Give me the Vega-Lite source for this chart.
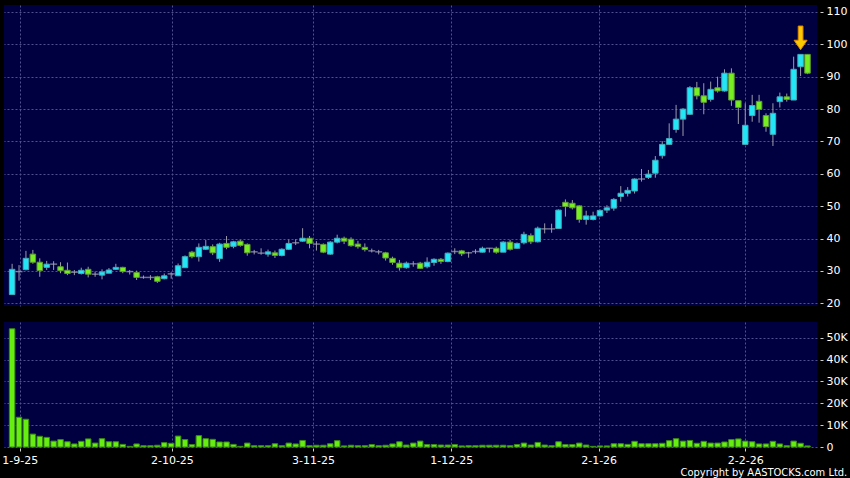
{
  "$schema": "https://vega.github.io/schema/vega-lite/v6.json",
  "background": "#000000",
  "autosize": {"type": "none"},
  "padding": {"left": 4, "top": 5, "right": 846, "bottom": 473},
  "config": {
    "view": {"fill": "#000040", "stroke": null},
    "font": "DejaVu Sans",
    "axis": {"labelColor": "#ffffff", "labelFont": "DejaVu Sans", "labelFontSize": 11, "tickColor": "#d0d0d0", "gridColor": "#50508e", "gridDash": [2, 2], "gridWidth": 1, "domain": false, "title": null}
  },
  "datasets": {
    "k": [
      {"i":0,"o":22.7,"h":32.2,"l":22.7,"c":30.5,"v":54100},
      {"i":1,"o":29.8,"h":31.8,"l":27.0,"c":29.8,"v":13600},
      {"i":2,"o":30.4,"h":36.2,"l":30.2,"c":33.9,"v":12700},
      {"i":3,"o":35.2,"h":36.5,"l":32.2,"c":32.7,"v":5900},
      {"i":4,"o":32.7,"h":33.9,"l":28.2,"c":30.1,"v":4900},
      {"i":5,"o":31.1,"h":33.1,"l":30.3,"c":32.1,"v":4400},
      {"i":6,"o":32.1,"h":33.0,"l":30.3,"c":32.1,"v":2700},
      {"i":7,"o":31.3,"h":32.7,"l":29.3,"c":30.1,"v":3400},
      {"i":8,"o":30.2,"h":32.6,"l":28.7,"c":29.2,"v":2400},
      {"i":9,"o":29.6,"h":30.3,"l":28.7,"c":29.6,"v":1400},
      {"i":10,"o":29.2,"h":31.0,"l":28.9,"c":30.2,"v":2600},
      {"i":11,"o":30.5,"h":31.3,"l":28.0,"c":29.0,"v":3700},
      {"i":12,"o":29.0,"h":29.8,"l":28.2,"c":29.0,"v":1800},
      {"i":13,"o":28.7,"h":30.5,"l":27.4,"c":29.7,"v":3800},
      {"i":14,"o":29.3,"h":30.9,"l":29.3,"c":30.3,"v":2400},
      {"i":15,"o":30.5,"h":32.2,"l":30.3,"c":31.1,"v":2400},
      {"i":16,"o":31.1,"h":31.3,"l":29.3,"c":29.8,"v":1200},
      {"i":17,"o":29.8,"h":30.3,"l":28.9,"c":29.8,"v":300},
      {"i":18,"o":29.5,"h":30.1,"l":27.2,"c":28.0,"v":1400},
      {"i":19,"o":28.0,"h":28.6,"l":27.6,"c":28.0,"v":600},
      {"i":20,"o":28.0,"h":28.7,"l":27.2,"c":28.0,"v":600},
      {"i":21,"o":28.2,"h":28.5,"l":26.3,"c":26.8,"v":800},
      {"i":22,"o":27.6,"h":29.2,"l":27.4,"c":28.5,"v":2000},
      {"i":23,"o":29.1,"h":29.6,"l":27.6,"c":29.1,"v":1700},
      {"i":24,"o":28.5,"h":32.3,"l":28.5,"c":31.6,"v":5000},
      {"i":25,"o":31.0,"h":34.8,"l":31.0,"c":34.4,"v":3400},
      {"i":26,"o":35.8,"h":36.2,"l":33.9,"c":34.4,"v":1100},
      {"i":27,"o":34.4,"h":38.5,"l":32.9,"c":37.3,"v":5200},
      {"i":28,"o":36.7,"h":39.6,"l":36.5,"c":37.6,"v":3800},
      {"i":29,"o":37.5,"h":38.2,"l":34.9,"c":35.6,"v":3500},
      {"i":30,"o":33.8,"h":38.7,"l":32.8,"c":38.3,"v":2300},
      {"i":31,"o":38.5,"h":40.8,"l":36.7,"c":37.3,"v":2300},
      {"i":32,"o":37.6,"h":39.3,"l":37.0,"c":39.0,"v":1200},
      {"i":33,"o":39.2,"h":39.6,"l":37.5,"c":37.9,"v":300},
      {"i":34,"o":38.2,"h":38.5,"l":34.7,"c":35.6,"v":1800},
      {"i":35,"o":35.9,"h":36.5,"l":35.1,"c":35.9,"v":600},
      {"i":36,"o":35.5,"h":37.0,"l":35.0,"c":35.5,"v":600},
      {"i":37,"o":35.2,"h":36.6,"l":34.4,"c":35.9,"v":600},
      {"i":38,"o":35.6,"h":36.3,"l":34.0,"c":34.8,"v":1500},
      {"i":39,"o":34.8,"h":37.0,"l":34.5,"c":36.7,"v":600},
      {"i":40,"o":36.7,"h":39.7,"l":36.5,"c":38.5,"v":1800},
      {"i":41,"o":38.7,"h":39.8,"l":38.0,"c":38.7,"v":1400},
      {"i":42,"o":39.2,"h":43.2,"l":39.0,"c":40.1,"v":3000},
      {"i":43,"o":40.1,"h":40.8,"l":37.0,"c":38.5,"v":600},
      {"i":44,"o":38.3,"h":39.2,"l":36.3,"c":38.3,"v":800},
      {"i":45,"o":38.2,"h":38.5,"l":35.5,"c":35.8,"v":800},
      {"i":46,"o":35.2,"h":39.2,"l":35.0,"c":38.9,"v":1500},
      {"i":47,"o":38.9,"h":41.2,"l":38.5,"c":40.1,"v":2900},
      {"i":48,"o":40.1,"h":40.6,"l":38.3,"c":39.2,"v":500},
      {"i":49,"o":39.8,"h":40.4,"l":37.5,"c":37.8,"v":800},
      {"i":50,"o":38.3,"h":39.3,"l":36.9,"c":37.5,"v":600},
      {"i":51,"o":37.3,"h":38.5,"l":36.0,"c":36.6,"v":600},
      {"i":52,"o":36.2,"h":36.9,"l":35.7,"c":36.2,"v":1100},
      {"i":53,"o":35.9,"h":36.5,"l":35.1,"c":35.9,"v":600},
      {"i":54,"o":35.6,"h":35.9,"l":33.2,"c":34.0,"v":800},
      {"i":55,"o":33.9,"h":34.4,"l":31.9,"c":32.6,"v":1400},
      {"i":56,"o":32.4,"h":33.4,"l":30.1,"c":31.0,"v":2400},
      {"i":57,"o":31.0,"h":32.9,"l":30.7,"c":32.4,"v":900},
      {"i":58,"o":32.2,"h":33.0,"l":31.3,"c":32.2,"v":1800},
      {"i":59,"o":32.4,"h":32.8,"l":30.6,"c":30.8,"v":2700},
      {"i":60,"o":31.3,"h":34.2,"l":30.8,"c":32.7,"v":1100},
      {"i":61,"o":32.6,"h":33.9,"l":31.6,"c":33.6,"v":1100},
      {"i":62,"o":33.6,"h":34.0,"l":32.2,"c":32.9,"v":900},
      {"i":63,"o":32.9,"h":35.7,"l":32.7,"c":35.5,"v":900},
      {"i":64,"o":36.0,"h":37.0,"l":35.2,"c":36.0,"v":1100},
      {"i":65,"o":36.2,"h":36.5,"l":34.6,"c":35.3,"v":500},
      {"i":66,"o":35.6,"h":35.9,"l":34.1,"c":35.6,"v":600},
      {"i":67,"o":36.0,"h":36.7,"l":35.3,"c":36.0,"v":600},
      {"i":68,"o":35.8,"h":37.5,"l":35.7,"c":37.0,"v":800},
      {"i":69,"o":37.0,"h":37.1,"l":35.7,"c":37.0,"v":800},
      {"i":70,"o":37.0,"h":37.5,"l":35.3,"c":35.8,"v":800},
      {"i":71,"o":35.8,"h":39.2,"l":35.8,"c":38.9,"v":800},
      {"i":72,"o":38.9,"h":39.6,"l":36.3,"c":36.7,"v":600},
      {"i":73,"o":37.0,"h":38.8,"l":36.8,"c":38.5,"v":1100},
      {"i":74,"o":38.7,"h":42.1,"l":38.2,"c":41.3,"v":1800},
      {"i":75,"o":40.9,"h":41.6,"l":38.3,"c":39.0,"v":900},
      {"i":76,"o":39.0,"h":43.7,"l":38.8,"c":43.2,"v":2100},
      {"i":77,"o":43.0,"h":44.7,"l":41.6,"c":43.0,"v":900},
      {"i":78,"o":43.0,"h":44.6,"l":41.8,"c":43.0,"v":600},
      {"i":79,"o":43.1,"h":49.0,"l":43.1,"c":48.8,"v":2400},
      {"i":80,"o":51.2,"h":52.1,"l":46.8,"c":49.9,"v":1100},
      {"i":81,"o":50.9,"h":51.9,"l":49.0,"c":49.5,"v":1100},
      {"i":82,"o":50.1,"h":50.3,"l":44.9,"c":45.9,"v":1800},
      {"i":83,"o":45.9,"h":48.6,"l":44.3,"c":47.0,"v":900},
      {"i":84,"o":45.9,"h":48.3,"l":45.6,"c":47.0,"v":300},
      {"i":85,"o":47.0,"h":49.0,"l":46.8,"c":48.7,"v":500},
      {"i":86,"o":48.8,"h":50.3,"l":47.9,"c":49.5,"v":500},
      {"i":87,"o":49.4,"h":52.5,"l":48.6,"c":52.1,"v":1500},
      {"i":88,"o":53.0,"h":56.2,"l":51.4,"c":54.0,"v":1500},
      {"i":89,"o":54.0,"h":55.9,"l":53.0,"c":54.9,"v":1200},
      {"i":90,"o":54.7,"h":58.6,"l":53.9,"c":58.4,"v":2600},
      {"i":91,"o":58.4,"h":61.5,"l":57.6,"c":58.4,"v":1500},
      {"i":92,"o":58.9,"h":61.2,"l":58.4,"c":59.9,"v":1500},
      {"i":93,"o":60.2,"h":65.5,"l":58.8,"c":64.2,"v":1500},
      {"i":94,"o":65.6,"h":70.1,"l":64.7,"c":69.1,"v":1700},
      {"i":95,"o":69.1,"h":75.6,"l":68.9,"c":70.9,"v":2900},
      {"i":96,"o":73.7,"h":81.3,"l":72.7,"c":76.9,"v":3800},
      {"i":97,"o":76.9,"h":80.3,"l":71.7,"c":80.0,"v":2700},
      {"i":98,"o":78.4,"h":87.1,"l":78.2,"c":86.6,"v":3000},
      {"i":99,"o":86.6,"h":88.4,"l":83.0,"c":84.1,"v":1700},
      {"i":100,"o":84.1,"h":88.0,"l":78.4,"c":82.1,"v":2600},
      {"i":101,"o":83.0,"h":88.5,"l":82.3,"c":86.1,"v":1800},
      {"i":102,"o":86.6,"h":90.0,"l":85.1,"c":85.6,"v":1800},
      {"i":103,"o":85.6,"h":92.3,"l":85.4,"c":91.1,"v":2300},
      {"i":104,"o":91.1,"h":92.6,"l":81.0,"c":82.8,"v":3400},
      {"i":105,"o":82.6,"h":82.6,"l":75.4,"c":80.5,"v":3700},
      {"i":106,"o":69.1,"h":81.8,"l":69.1,"c":75.0,"v":2700},
      {"i":107,"o":78.0,"h":84.4,"l":76.1,"c":81.1,"v":2400},
      {"i":108,"o":82.4,"h":84.4,"l":75.8,"c":79.9,"v":1400},
      {"i":109,"o":78.0,"h":78.7,"l":73.0,"c":74.6,"v":1400},
      {"i":110,"o":72.2,"h":81.8,"l":68.6,"c":78.7,"v":2600},
      {"i":111,"o":82.3,"h":85.1,"l":80.5,"c":83.8,"v":1400},
      {"i":112,"o":83.8,"h":84.8,"l":82.3,"c":83.0,"v":600},
      {"i":113,"o":82.8,"h":96.2,"l":82.8,"c":92.3,"v":2700},
      {"i":114,"o":93.1,"h":96.9,"l":90.2,"c":96.9,"v":1700},
      {"i":115,"o":96.9,"h":96.9,"l":90.8,"c":91.1,"v":500}
    ],
    "m": [{"i": 114, "p": 102}]
  },
  "spacing": 13,
  "vconcat": [
    {
      "width": 813,
      "height": 301,
      "data": {"name": "k"},
      "encoding": {
        "x": {"field": "i", "type": "quantitative", "scale": {"domain": [-0.45, 115.65], "nice": false, "zero": false},
              "axis": {"values": [1.1, 23.1, 43.5, 63.5, 84.8, 106], "labels": false, "ticks": false, "grid": true}}
      },
      "layer": [
        {
          "mark": {"type": "rule", "color": "#9a9aaa", "strokeWidth": 1},
          "encoding": {
            "y": {"field": "l", "type": "quantitative", "scale": {"domain": [19.17, 112.16], "nice": false, "zero": false},
                  "axis": {"orient": "right", "values": [20, 30, 40, 50, 60, 70, 80, 90, 100, 110], "offset": 3, "tickSize": 3, "labelPadding": 3, "grid": true, "labelOverlap": false, "labelBound": false}},
            "y2": {"field": "h"}
          }
        },
        {
          "transform": [{"filter": "datum.o != datum.c"}],
          "mark": {"type": "bar", "width": 5.5, "strokeWidth": 1},
          "encoding": {
            "y": {"field": "o", "type": "quantitative", "axis": {"orient": "right", "values": [20, 30, 40, 50, 60, 70, 80, 90, 100, 110], "offset": 3, "tickSize": 3, "labelPadding": 3, "grid": true, "labelOverlap": false, "labelBound": false}},
            "y2": {"field": "c"},
            "fill": {"condition": {"test": "datum.c > datum.o", "value": "#22e6f6"}, "value": "#77ee22"},
            "stroke": {"condition": {"test": "datum.c > datum.o", "value": "#45a9bb"}, "value": "#5f9c33"}
          }
        },
        {
          "transform": [{"filter": "datum.o == datum.c"}],
          "mark": {"type": "tick", "orient": "horizontal", "size": 7, "thickness": 1.5, "color": "#a0a0b0"},
          "encoding": {"y": {"field": "o", "type": "quantitative", "axis": {"orient": "right", "values": [20, 30, 40, 50, 60, 70, 80, 90, 100, 110], "offset": 3, "tickSize": 3, "labelPadding": 3, "grid": true, "labelOverlap": false, "labelBound": false}}}
        },
        {
          "data": {"name": "m"},
          "mark": {"type": "point", "shape": "M-0.2,-1L0.2,-1L0.2,0.2L0.55,0.2L0,1L-0.55,0.2L-0.2,0.2Z", "size": 560, "filled": true, "fill": "#f8c800", "stroke": "#e08800", "strokeWidth": 1, "opacity": 1},
          "encoding": {"y": {"field": "p", "type": "quantitative", "axis": {"orient": "right", "values": [20, 30, 40, 50, 60, 70, 80, 90, 100, 110], "offset": 3, "tickSize": 3, "labelPadding": 3, "grid": true, "labelOverlap": false, "labelBound": false}}}
        }
      ]
    },
    {
      "width": 813,
      "height": 125,
      "data": {"name": "k"},
      "mark": {"type": "bar", "width": 5.5, "fill": "#66ee11", "stroke": "#3a8a14", "strokeWidth": 1},
      "encoding": {
        "x": {"field": "i", "type": "quantitative", "scale": {"domain": [-0.45, 115.65], "nice": false, "zero": false},
              "axis": {"values": [1.1, 23.1, 43.5, 63.5, 84.8, 106], "labelExpr": "datum.value < 5 ? '1-9-25' : datum.value < 30 ? '2-10-25' : datum.value < 50 ? '3-11-25' : datum.value < 70 ? '1-12-25' : datum.value < 95 ? '2-1-26' : '2-2-26'", "offset": 1, "tickSize": 3, "labelPadding": 3, "grid": true, "labelFlush": false, "labelOverlap": false, "labelBound": false}},
        "y": {"field": "v", "type": "quantitative", "scale": {"domain": [0, 57200], "nice": false},
              "axis": {"orient": "right", "values": [0, 10000, 20000, 30000, 40000, 50000], "labelExpr": "datum.value == 0 ? '0' : (datum.value / 1000) + 'K'", "offset": 3, "tickSize": 3, "labelPadding": 3, "grid": true, "labelOverlap": false, "labelFlush": false}}
      }
    }
  ],
  "title": {"text": "Copyright by AASTOCKS.com Ltd.", "orient": "bottom", "anchor": "end", "color": "#ffffff", "fontSize": 11, "font": "DejaVu Sans Condensed, Liberation Sans", "fontWeight": "normal", "offset": 2}
}
